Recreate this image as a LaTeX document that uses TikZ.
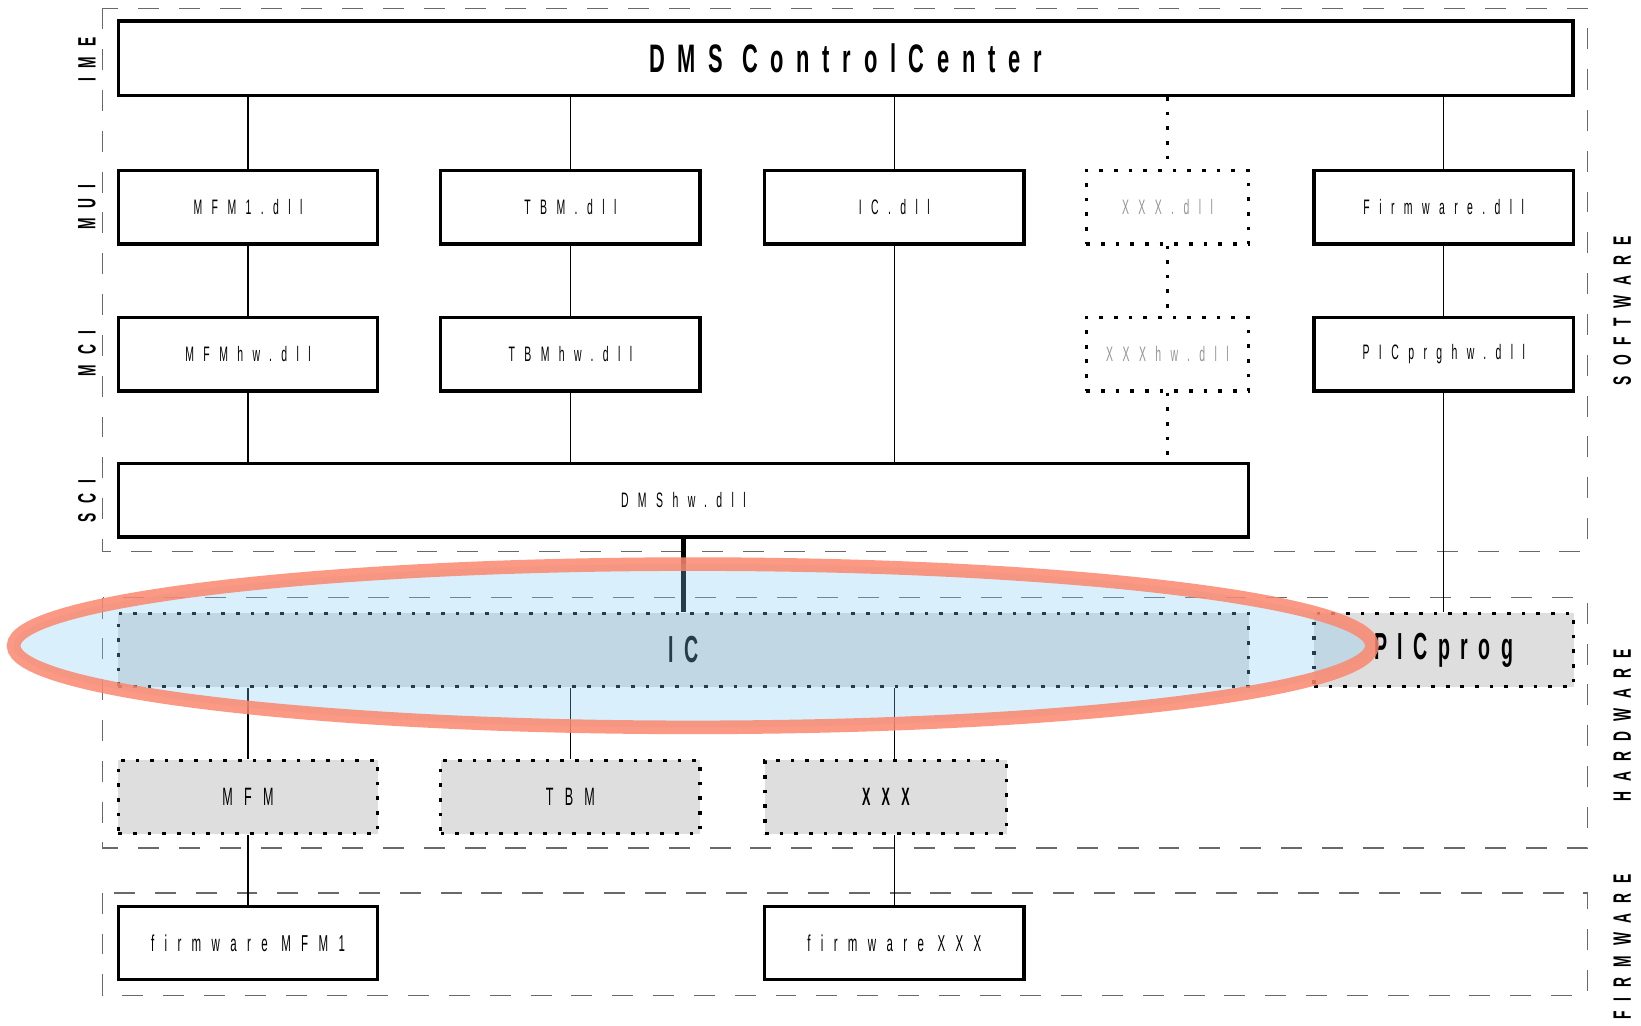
\documentclass[tikz,border=0pt]{standalone}
\usepackage{fontspec}
\setmainfont{Liberation Sans}
\newfontfamily\boxfont{Liberation Sans}[FakeStretch=0.5,LetterSpace=45]
\newfontfamily\bigfont{Liberation Sans}[FakeStretch=0.52,LetterSpace=28]
\newfontfamily\titlefont{Liberation Sans}[FakeStretch=0.55,LetterSpace=32]
\newfontfamily\sidefont{Liberation Sans}[FakeStretch=0.55,LetterSpace=40]
\definecolor{boxgray}{RGB}{222,222,222}
\definecolor{framegray}{RGB}{105,105,105}
\definecolor{txtgray}{RGB}{150,150,150}
\definecolor{ringred}{RGB}{250,135,110}
\definecolor{icblue}{RGB}{128,205,245}

\begin{document}
\begin{tikzpicture}[x=1pt,y=-1pt,
	box/.style={draw, line width=3.2, fill=white, inner sep=0, minimum width=248, minimum height=70, font=\boxfont\fontsize{20}{24}\selectfont},
	dotbox/.style={box, dash pattern=on 3.5 off 10.5},
	hwbox/.style={dotbox, fill=boxgray, font=\boxfont\fontsize{24}{28}\selectfont},
	frame/.style={draw=framegray, line width=1.5, dash pattern=on 20 off 19},
	side/.style={rotate=90, inner sep=0, font=\sidefont\bfseries\fontsize{24}{28}\selectfont},
	wire/.style={line width=1.3},
	dotwire/.style={line width=3.5, dash pattern=on 3.5 off 10.5}
]
\useasboundingbox (0,0) rectangle (1568,980);

% layer frames
\draw[frame] (98,8) rectangle (1517,527);
\draw[frame] (98,571) rectangle (1517,810);
\draw[frame] (98,853) rectangle (1517,951);

\node[side] (ime) at (83,57) {IME};
\node[side] (mui) at (83,198) {MUI};
\node[side] (mci) at (83,338) {MCI};
\node[side] (sci) at (83,479) {SCI};
\node[side] (sw) at (1550,297) {SOFTWARE};
\node[side] (hw) at (1550,693) {HARDWARE};
\node[side] (fw) at (1550,905) {FIRMWARE};

% software
\node[box, minimum width=1390, minimum height=71, font=\titlefont\bfseries\fontsize{38}{44}\selectfont] (dms) at (808,55.5) {DMS ControlCenter};

\foreach \nm/\x/\lbl in {mfmdll/237/MFM1.dll, tbmdll/545/TBM.dll, icdll/854.5/IC.dll, fwdll/1379.5/Firmware.dll}{
	\node[box] (\nm) at (\x,198) {\lbl};
}
\foreach \nm/\x/\lbl in {mfmhw/237/MFMhw.dll, tbmhw/545/TBMhw.dll, picprghw/1379.5/PICprghw.dll}{
	\node[box] (\nm) at (\x,338.5) {\lbl};
}
\node[dotbox, minimum width=155, text=txtgray] (xxxdll) at (1115.5,198) {XXX.dll};
\node[dotbox, minimum width=155, text=txtgray] (xxxhw) at (1115.5,338.5) {XXXhw.dll};

\node[box, minimum width=1080] (dmshw) at (653,478) {DMShw.dll};

% hardware
\node[hwbox, minimum width=1080, font=\bigfont\bfseries\fontsize{36}{40}\selectfont] (ic) at (653,621) {IC};
\node[hwbox, font=\bigfont\bfseries\fontsize{36}{40}\selectfont] (picprog) at (1379.5,621) {PICprog};
\node[hwbox] (mfm) at (237,761.5) {MFM};
\node[hwbox] (tbm) at (545,761.5) {TBM};
\node[hwbox, minimum width=231, font=\boxfont\bfseries\fontsize{24}{28}\selectfont] (xxx) at (846.5,761.5) {XXX};

% firmware
\node[box, font=\boxfont\fontsize{22}{26}\selectfont] (fwmfm) at (237,901) {firmware MFM1};
\node[box, font=\boxfont\fontsize{22}{26}\selectfont] (fwxxx) at (854.5,901) {firmware XXX};

\foreach \u/\v/\x in {
dms/mfmdll/mfmdll%
,dms/tbmdll/tbmdll%
,dms/icdll/icdll%
,dms/fwdll/fwdll%
,mfmdll/mfmhw/mfmhw%
,tbmdll/tbmhw/tbmhw%
,fwdll/picprghw/picprghw%
,mfmhw/dmshw/mfmhw%
,tbmhw/dmshw/tbmhw%
,icdll/dmshw/icdll%
,picprghw/picprog/picprog%
,ic/mfm/mfm%
,ic/tbm/tbm%
,ic/xxx/fwxxx%
,mfm/fwmfm/fwmfm%
,xxx/fwxxx/fwxxx%
}{
	\draw[wire] (\x |- \u.south) -- (\x |- \v.north);
}

\foreach \u/\v in {dms/xxxdll, xxxdll/xxxhw, xxxhw/dmshw}{
	\draw[dotwire] (xxxdll |- \u.south) -- (xxxdll |- \v.north);
}
\draw[line width=4] (dmshw.south) -- (ic.north);

% highlight
\draw[draw=ringred, draw opacity=0.85, line width=13, fill=icblue, fill opacity=0.3] (662,617) ellipse [x radius=649pt, y radius=78pt];

\end{tikzpicture}
\end{document}
